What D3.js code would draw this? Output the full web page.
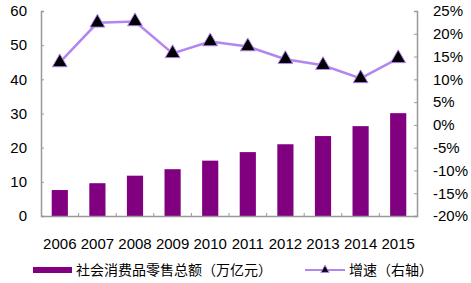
<!DOCTYPE html>
<html>
<head>
<meta charset="utf-8">
<script src="https://cdn.jsdelivr.net/npm/d3@7"></script>
<style>
  body { margin: 0; background: #fff; }
  text { font-family: "Liberation Sans", Arial, "Noto Sans CJK SC", sans-serif; fill: #000; }
</style>
</head>
<body>
<div id="chart"></div>
<script>
const years = ["2006", "2007", "2008", "2009", "2010", "2011", "2012", "2013", "2014", "2015"];
const retailSales = [7.6, 9.6, 11.8, 13.7, 16.2, 18.7, 21.0, 23.4, 26.3, 30.1];
const growthRate = [13.7, 22.4, 22.7, 15.7, 18.3, 17.2, 14.4, 13.1, 10.2, 14.6];
const leftTicks = [0, 10, 20, 30, 40, 50, 60];
const rightTicks = [-20, -15, -10, -5, 0, 5, 10, 15, 20, 25];
const barName = "社会消费品零售总额（万亿元）";
const lineName = "增速（右轴）";

const W = 471, H = 283;
const m = {left: 41, right: 54, top: 11, bottom: 67};
const axisColor = "#999";
const barColor = "#800080";
const lineColor = "#b385f0";
const numFont = 15;

const svg = d3.select("#chart").append("svg")
  .attr("width", W).attr("height", H);

const x = d3.scaleBand().domain(years)
  .range([m.left, W - m.right]).paddingInner(0.57).paddingOuter(0.285);
const xb = d3.scaleBand().domain(years).range([m.left, W - m.right]);
const yL = d3.scaleLinear().domain([0, 60]).range([H - m.bottom, m.top]);
const yR = d3.scaleLinear().domain([-20, 25]).range([H - m.bottom, m.top]);

// bars
svg.append("g").selectAll("rect").data(retailSales).join("rect")
  .attr("x", (d, i) => x(years[i]))
  .attr("y", d => yL(d))
  .attr("width", x.bandwidth())
  .attr("height", d => yL(0) - yL(d))
  .attr("fill", barColor);

// left axis
const gl = svg.append("g").attr("transform", `translate(${m.left},0)`)
  .call(d3.axisLeft(yL).tickValues(leftTicks).tickSize(-3).tickPadding(14));
gl.select(".domain").attr("stroke", axisColor).attr("stroke-width", 1.5);
gl.selectAll(".tick line").attr("stroke", axisColor);
gl.selectAll(".tick text").attr("font-size", numFont).attr("fill", "#000");

// right axis
const gr = svg.append("g").attr("transform", `translate(${W - m.right},0)`)
  .call(d3.axisRight(yR).tickValues(rightTicks).tickSize(-3).tickPadding(16)
    .tickFormat(d => d + "%"));
gr.select(".domain").attr("stroke", axisColor).attr("stroke-width", 1.5);
gr.selectAll(".tick line").attr("stroke", axisColor);
gr.selectAll(".tick text").attr("font-size", numFont).attr("fill", "#000");

// bottom axis
const gb = svg.append("g").attr("transform", `translate(0,${H - m.bottom})`)
  .call(d3.axisBottom(x).tickSize(0).tickPadding(22));
gb.select(".domain").attr("stroke", axisColor).attr("stroke-width", 1.5);
gb.selectAll(".tick text").attr("font-size", 15).attr("fill", "#000");
svg.append("g").selectAll("line").data(years.slice(1)).join("line")
  .attr("x1", d => xb(d)).attr("x2", d => xb(d))
  .attr("y1", yL(0)).attr("y2", yL(0) - 3)
  .attr("stroke", axisColor);

// line
const cx = (d, i) => xb(years[i]) + xb.bandwidth() / 2;
svg.append("path").datum(growthRate)
  .attr("fill", "none").attr("stroke", lineColor).attr("stroke-width", 2.5)
  .attr("d", d3.line().x(cx).y(d => yR(d)));
const tri = d3.symbol().type(d3.symbolTriangle).size(95);
svg.append("g").selectAll("path").data(growthRate).join("path")
  .attr("d", tri)
  .attr("transform", (d, i) => `translate(${cx(d, i)},${yR(d)})`)
  .attr("fill", "#000").attr("stroke", lineColor).attr("stroke-width", 1);

// legend
const ly = 270;
svg.append("rect").attr("x", 33).attr("y", ly - 3).attr("width", 39).attr("height", 6).attr("fill", barColor);
svg.append("text").attr("x", 76).attr("y", ly + 5).attr("font-size", 14).text(barName);
svg.append("line").attr("x1", 305).attr("x2", 345).attr("y1", ly).attr("y2", ly)
  .attr("stroke", lineColor).attr("stroke-width", 2);
svg.append("path").attr("d", d3.symbol().type(d3.symbolTriangle).size(30))
  .attr("transform", `translate(325,${ly})`).attr("fill", "#000").attr("stroke", lineColor);
svg.append("text").attr("x", 349).attr("y", ly + 5).attr("font-size", 14).text(lineName);
</script>
</body>
</html>
